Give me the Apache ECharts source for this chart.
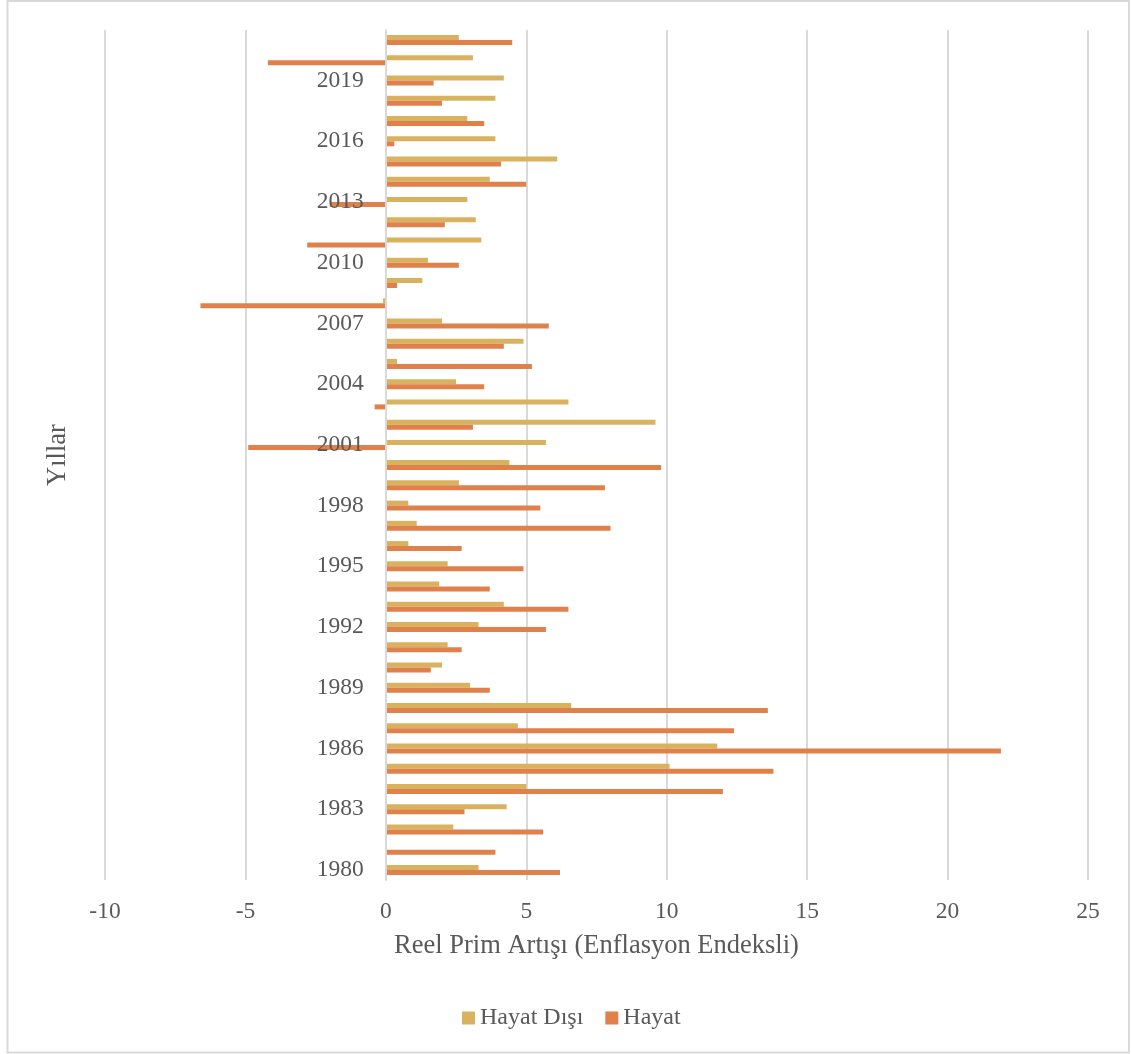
<!DOCTYPE html>
<html>
<head>
<meta charset="utf-8">
<script src="https://cdn.jsdelivr.net/npm/echarts@6/dist/echarts.min.js"></script>
<style>
  html, body { margin: 0; padding: 0; background: #ffffff; }
  #chart { width: 1131px; height: 1054px; }
</style>
</head>
<body>
<div id="chart"></div>
<script>
// Yıllar 1980–2021
const years = [];
for (let y = 1980; y <= 2021; y++) years.push(String(y));

// Reel prim artışı (%), enflasyon endeksli — Hayat Dışı
const hayatDisi = [
  3.3, 0, 2.4, 4.3, 5.0, 10.1, 11.8, 4.7, 6.6, 3.0,
  2.0, 2.2, 3.3, 4.2, 1.9, 2.2, 0.8, 1.1, 0.8, 2.6,
  4.4, 5.7, 9.6, 6.5, 2.5, 0.4, 4.9, 2.0, -0.1, 1.3,
  1.5, 3.4, 3.2, 2.9, 3.7, 6.1, 3.9, 2.9, 3.9, 4.2,
  3.1, 2.6
];

// Reel prim artışı (%), enflasyon endeksli — Hayat
const hayat = [
  6.2, 3.9, 5.6, 2.8, 12.0, 13.8, 21.9, 12.4, 13.6, 3.7,
  1.6, 2.7, 5.7, 6.5, 3.7, 4.9, 2.7, 8.0, 5.5, 7.8,
  9.8, -4.9, 3.1, -0.4, 3.5, 5.2, 4.2, 5.8, -6.6, 0.4,
  2.6, -2.8, 2.1, -2.0, 5.0, 4.1, 0.3, 3.5, 2.0, 1.7,
  -4.2, 4.5
];

// Değer ekseni aralığı
const xMin = -10, xMax = 25, xStep = 5;

const FONT = '"Liberation Serif", "Times New Roman", serif';
const TEXT = '#595959';
const GRID = '#d9d9d9';

const W = 1131;
const gridLeft = 105, gridRight = 43;
// Kategori ekseni sıfır çizgisinde dursun: ızgara sol kenarından kaydırma
const plotW = W - gridLeft - gridRight;
const zeroShift = plotW * (0 - xMin) / (xMax - xMin);

const chart = echarts.init(document.getElementById('chart'));
chart.setOption({
  animation: false,
  backgroundColor: '#ffffff',
  textStyle: { fontFamily: FONT, color: TEXT },
  graphic: [{
    type: 'rect',
    shape: { x: 7.5, y: 1, width: 1121.5, height: 1051.5 },
    style: { fill: 'none', stroke: GRID, lineWidth: 2 },
    silent: true
  }],
  grid: { left: gridLeft, right: gridRight, top: 30, bottom: 174, containLabel: false, outerBoundsMode: 'none' },
  legend: {
    data: ['Hayat Dışı', 'Hayat'],
    top: 1001,
    left: 457,
    icon: 'rect',
    itemWidth: 13,
    itemHeight: 13,
    itemGap: 22,
    textStyle: { fontFamily: FONT, fontSize: 24, color: TEXT }
  },
  xAxis: {
    type: 'value',
    min: xMin,
    max: xMax,
    interval: xStep,
    name: 'Reel Prim Artışı (Enflasyon Endeksli)',
    nameLocation: 'middle',
    nameGap: 53,
    nameTextStyle: { fontFamily: FONT, fontSize: 26.5, color: TEXT },
    axisLine: { show: false },
    axisTick: { show: false },
    axisLabel: { margin: 20, fontFamily: FONT, fontSize: 23.5, color: TEXT },
    splitLine: { show: true, lineStyle: { color: GRID, width: 2 } }
  },
  yAxis: {
    type: 'category',
    data: years,
    z: 5,
    offset: -zeroShift,
    name: 'Yıllar',
    nameLocation: 'middle',
    nameGap: 314,
    nameTextStyle: { fontFamily: FONT, fontSize: 26.5, color: TEXT },
    axisLine: { show: true, onZero: false, lineStyle: { color: GRID, width: 2 } },
    axisTick: { show: false },
    axisLabel: { interval: 2, margin: 22, fontFamily: FONT, fontSize: 23.5, color: TEXT },
    splitLine: { show: false }
  },
  series: [
    {
      name: 'Hayat Dışı',
      type: 'bar',
      data: hayatDisi,
      barWidth: 5,
      barGap: '0%',
      itemStyle: { color: '#D9B25F' }
    },
    {
      name: 'Hayat',
      type: 'bar',
      data: hayat,
      barWidth: 5,
      barGap: '0%',
      itemStyle: { color: '#E0814B' }
    }
  ]
});
</script>
</body>
</html>
